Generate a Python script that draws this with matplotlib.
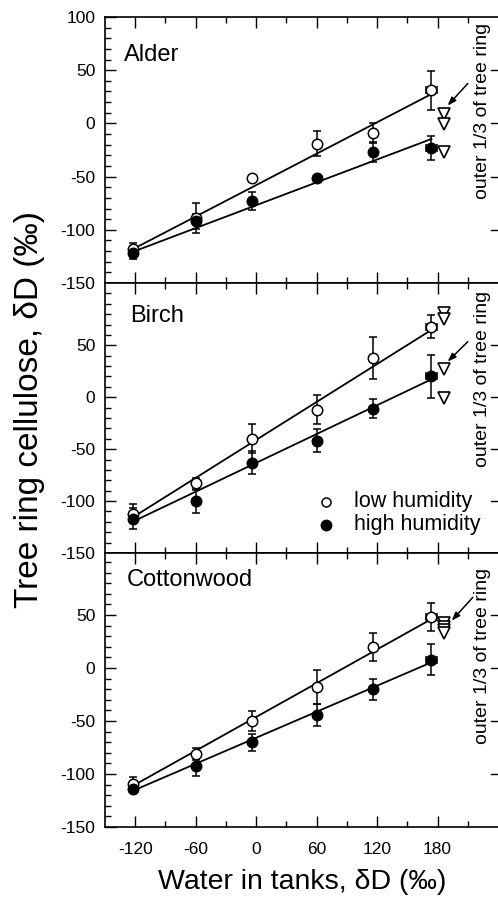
import numpy as np
import matplotlib.pyplot as plt

plt.rcParams['font.family'] = ['Liberation Sans', 'DejaVu Sans']
plt.rcParams['axes.unicode_minus'] = False

# water dD in the tanks (x, per mil)
water_dD = [-122, -60, -4, 60, 116, 174]
water_xerr = [0, 0, 0, 0, 0, 5]

species = ['Alder', 'Birch', 'Cottonwood']

# tree ring cellulose dD, low humidity (open circles)
low_alder = [-118, -89, -51, -19, -9, 31]
low_alder_err = [6, 14, 0, 12, 9, 18]
low_birch = [-112, -83, -40, -12, 38, 68]
low_birch_err = [9, 5, 14, 14, 20, 11]
low_cotton = [-109, -81, -50, -18, 20, 48]
low_cotton_err = [6, 6, 9, 16, 13, 13]

# high humidity (filled circles)
high_alder = [-122, -92, -73, -51, -27, -23]
high_alder_err = [5, 7, 8.5, 0, 9.5, 11]
high_birch = [-117, -100, -63, -42, -11, 20]
high_birch_err = [10, 11, 11, 11, 9, 21]
high_cotton = [-114, -92, -70, -44, -20, 8]
high_cotton_err = [0, 9.5, 8, 10.5, 10, 14.5]

# outer 1/3 of tree ring (open triangles)
outer_x = 186
outer_alder = [9, -1, -27]
outer_birch = [81, 75, 27, -1]
outer_cotton = [42, 39, 36, 33]

# regression lines (slope, intercept)
fit_low = [(0.492, -58.0), (0.609, -41.1), (0.531, -46.2)]
fit_high = [(0.358, -76.9), (0.4625, -63.2), (0.409, -65.8)]

low = [(low_alder, low_alder_err), (low_birch, low_birch_err), (low_cotton, low_cotton_err)]
high = [(high_alder, high_alder_err), (high_birch, high_birch_err), (high_cotton, high_cotton_err)]
outer = [outer_alder, outer_birch, outer_cotton]

W, H = 498, 900
fig = plt.figure(figsize=(W / 100, H / 100), dpi=100)

# panel layout in pixels: (top, bottom, ymax)
panels = [(17, 283, 100), (283, 553, 110), (553, 827, 108.5)]
title_pos = [(-131, 59), (-125, 72), (-128, 77.5)]
note_y = [12, 17.6, 11.6]
arrows = [((190, 16.7), (210, 37.5)), ((190, 34.3), (210, 53.5)), ((194, 44.6), (215, 66.7))]

x_left = 105
xfit = np.array([water_dD[0], water_dD[-1]])

for i, (top, bot, ymax) in enumerate(panels):
    ax = fig.add_axes([x_left / W, 1 - bot / H, (W - x_left) / W, (bot - top) / H])
    ax.set_xlim(-150, 240)
    ax.set_ylim(-150, ymax)

    s, b = fit_low[i]
    ax.plot(xfit, s * xfit + b, color='black', lw=1.3, zorder=1)
    s, b = fit_high[i]
    ax.plot(xfit, s * xfit + b, color='black', lw=1.3, zorder=1)

    yl, el = low[i]
    ax.errorbar(water_dD, yl, yerr=el, xerr=water_xerr, fmt='o', ms=7.5,
                mfc='white', mec='black', mew=1.1, ecolor='black',
                elinewidth=1.1, capsize=3, capthick=1.1, zorder=3)
    yh, eh = high[i]
    ax.errorbar(water_dD, yh, yerr=eh, xerr=water_xerr, fmt='o', ms=7.5,
                mfc='black', mec='black', mew=1.1, ecolor='black',
                elinewidth=1.1, capsize=3, capthick=1.1, zorder=3)
    ax.plot([outer_x] * len(outer[i]), outer[i], 'v', ms=8, mfc='white',
            mec='black', mew=1.2, ls='none', zorder=4)

    ax.text(title_pos[i][0], title_pos[i][1], species[i], fontsize=17,
            ha='left', va='baseline')
    ax.text(224.5, note_y[i], 'outer 1/3 of tree ring', rotation=90,
            fontsize=14, ha='center', va='center')
    (hx, hy), (tx, ty) = arrows[i]
    ax.annotate('', xy=(hx, hy), xytext=(tx, ty),
                arrowprops=dict(arrowstyle='-|>,head_length=0.5,head_width=0.18',
                                color='black', lw=1.1, shrinkA=0, shrinkB=0))

    ax.set_xticks([-120, -60, 0, 60, 120, 180])
    ax.set_xticks([-90, -30, 30, 90, 150, 210], minor=True)
    if i == 0:
        ax.set_yticks([-150, -100, -50, 0, 50, 100])
    else:
        ax.set_yticks([-150, -100, -50, 0, 50])
    ax.set_yticks(np.arange(-140, ymax, 10), minor=True)
    ax.tick_params(which='both', direction='in', top=True, bottom=True,
                   left=True, right=False, width=1, labelsize=12.5, pad=7)
    ax.tick_params(which='major', length=8)
    ax.tick_params(which='minor', length=4)
    ax.tick_params(axis='x', pad=11)
    if i < 2:
        ax.tick_params(axis='x', labelbottom=False)
    for y in ax.get_yticks():
        if y > -150 and y < ymax - 5:
            ax.plot([240 - 390 * 0.018, 240], [y, y], color='black', lw=1,
                    clip_on=False, zorder=5)
    for sp in ax.spines.values():
        sp.set_linewidth(1.2)
    ax.spines['right'].set_visible(False)

    if i == 1:
        ax.plot([69.6], [-100.7], 'o', ms=6.5, mfc='white', mec='black', mew=1.1)
        ax.plot([69.6], [-122.8], 'o', ms=7.5, mfc='black', mec='black')
        ax.text(97, -100.7, 'low humidity', fontsize=15.5, va='center', ha='left')
        ax.text(97, -122.8, 'high humidity', fontsize=15.5, va='center', ha='left')

fig.text(302 / W, 1 - 882 / H, 'Water in tanks, δD (‰)', fontsize=20.5,
         ha='center', va='center')
fig.text(30 / W, 1 - 410 / H, 'Tree ring cellulose, δD (‰)', fontsize=24,
         rotation=90, ha='center', va='center')

fig.savefig('out.png', dpi=100)
